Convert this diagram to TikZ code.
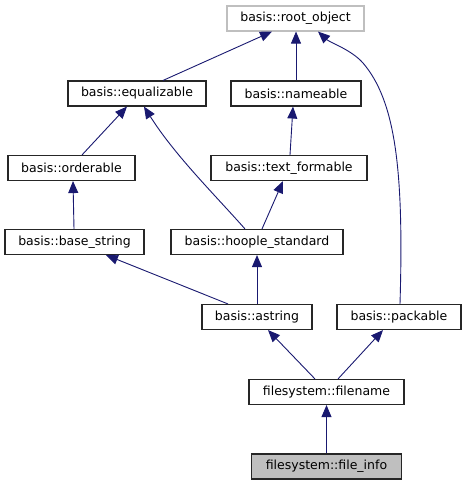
\documentclass[tikz,border=0pt]{standalone}
\usepackage{fontspec}
\setmainfont{DejaVu Sans}
\usetikzlibrary{arrows.meta}
\definecolor{edgeblue}{RGB}{25,25,112}
\definecolor{boxgray}{RGB}{191,191,191}
\tikzset{
  cls/.style={draw=black!85, line width=1.1pt, rectangle, minimum height=25pt, inner sep=0pt, anchor=center, font=\fontsize{12.5}{14}\selectfont},
  rootcls/.style={cls, draw=boxgray},
  curcls/.style={cls, fill=boxgray},
  inh/.style={draw=edgeblue, line width=0.9pt, -{Triangle[length=12pt,width=10pt]}, color=edgeblue},
}
\begin{document}
\begin{tikzpicture}[x=1pt,y=-1pt]
\useasboundingbox (0,0) rectangle (465,485);
\node[rootcls, minimum width=137pt] (root) at (295.5,18.5) {basis::root\_object};
\node[cls, minimum width=138pt] (equal) at (137,93.5) {basis::equalizable};
\node[cls, minimum width=130pt] (name) at (296,93.5) {basis::nameable};
\node[cls, minimum width=127pt] (order) at (71.5,168) {basis::orderable};
\node[cls, minimum width=156pt] (textf) at (289,168) {basis::text\_formable};
\node[cls, minimum width=139pt] (bases) at (74.5,242) {basis::base\_string};
\node[cls, minimum width=172pt] (hoople) at (257,242) {basis::hoople\_standard};
\node[cls, minimum width=110pt] (astr) at (257,317) {basis::astring};
\node[cls, minimum width=124pt] (pack) at (399,317) {basis::packable};
\node[cls, minimum width=155pt] (fname) at (326.5,392) {filesystem::filename};
\node[curcls, minimum width=150pt] (finfo) at (326.5,466.5) {filesystem::file\_info};

\draw[inh] ([xshift=26pt]equal.north) -- ([xshift=-23.5pt]root.south);
\draw[inh] (name.north) -- (root.south -| name.north);
\draw[inh] ([shift={(1,0)}]pack.north) .. controls ([shift={(5,-134)}]pack.north) and ([shift={(34,-6)}]name.south east) .. ([shift={(1,-18)}]name.north east) .. controls ([shift={(-11,-31)}]name.north east) and ([shift={(34.5,11)}]root.south) .. ([shift={(22.5,0)}]root.south);
\draw[inh] ([xshift=10.5pt]order.north) -- ([xshift=-10pt]equal.south);
\draw[inh] ([shift={(-12,0)}]hoople.north) .. controls ([shift={(-42,-34)}]hoople.north) and ([shift={(38,49)}]equal.south) .. ([shift={(7,0)}]equal.south);
\draw[inh] ([xshift=1pt]textf.north) -- ([xshift=-3pt]name.south);
\draw[inh] ([xshift=5pt]hoople.north) -- ([xshift=-6pt]textf.south);
\draw[inh] ([xshift=-0.5pt]bases.north) -- ([xshift=1.5pt]order.south);
\draw[inh] ([xshift=-29pt]astr.north) -- ([xshift=31.5pt]bases.south);
\draw[inh] (astr.north) -- (hoople.south);
\draw[inh] ([xshift=-11.5pt]fname.north) -- ([xshift=11pt]astr.south);
\draw[inh] ([xshift=11.5pt]fname.north) -- ([xshift=-16pt]pack.south);
\draw[inh] (finfo.north) -- (fname.south);
\end{tikzpicture}
\end{document}
